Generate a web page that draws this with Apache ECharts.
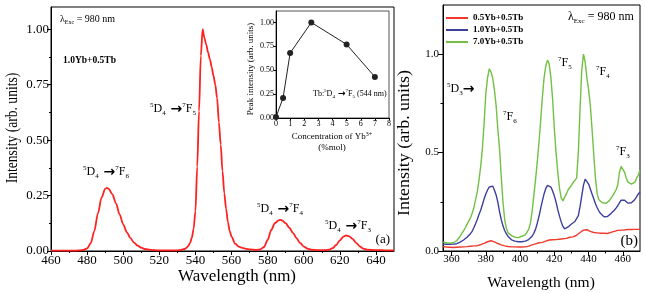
<!DOCTYPE html>
<html><head><meta charset="utf-8">
<script src="https://cdn.jsdelivr.net/npm/echarts@6/dist/echarts.min.js"></script>
<style>html,body{margin:0;padding:0;background:#fff}#c{width:646px;height:293px}</style>
</head><body><div id="c"></div>
<script>
// ---------- Panel (a): emission spectrum, 1.0Yb+0.5Tb ----------
const wavelengthA = [460,465,470,474,476,478,480,482,484,486,
 488,490,491,492,494,496,498,500,502,504,
 506,508,510,512,515,520,525,530,532,534,
 535,536,537,538,539,540,541,542,543,544,
 545,546,547,548,549,550,551,552,553,554,
 555,556,557,558,559,560,562,564,566,568,
 570,574,576,578,580,582,584,586,587,588,
 590,592,594,596,598,600,602,604,608,612,
 614,616,618,620,622,623.5,625,627,629,631,
 633,635,640,645,650];
const intensityA = [.002,.002,.002,.002,.003,.005,.012,.035,.09,.17,
 .24,.28,.285,.28,.255,.215,.165,.12,.085,.058,
 .038,.024,.015,.009,.005,.003,.003,.003,.005,.009,
 .014,.022,.035,.06,.1,.18,.38,.63,.88,1.0,
 .96,.93,.895,.865,.83,.79,.75,.69,.58,.48,
 .36,.26,.19,.13,.09,.065,.033,.02,.014,.01,
 .007,.005,.007,.018,.05,.095,.125,.138,.14,.138,
 .125,.105,.082,.058,.036,.02,.011,.006,.004,.004,
 .006,.013,.027,.048,.065,.07,.067,.055,.037,.021,
 .011,.006,.004,.003,.003];
const xTicksA = [460,480,500,520,540,560,580,600,620,640];
const xMinorA = [470,490,510,530,550,570,590,610,630];
const yTicksA = [0,0.25,0.5,0.75,1.0];
const yMinorA = [0.125,0.375,0.625,0.875];

// ---------- Inset: peak intensity vs Yb concentration ----------
const ybConc = [0,0.5,1,2.5,5,7];
const peakIntensity = [0.01,0.21,0.68,1.0,0.77,0.43];
const xTicksInset = [0,1,2,3,4,5,6,7,8];
const yTicksInset = [0,0.25,0.5,0.75,1.0];

// ---------- Panel (b): three concentrations ----------
const seriesNamesB = ['0.5Yb+0.5Tb','1.0Yb+0.5Tb','7.0Yb+0.5Tb'];
const wavelengthB = [355,356,357,358,359,360,361,362,363,364,
 365,366,367,368,369,370,371,372,373,374,
 375,376,377,378,379,380,381,382,383,384,
 385,386,387,388,389,390,391,392,393,394,
 395,396,397,398,399,400,401,402,403,404,
 405,406,407,408,409,410,411,412,413,414,
 415,416,417,418,419,420,421,422,423,424,
 425,426,427,428,429,430,431,432,433,434,
 435,436,437,438,439,440,441,442,443,444,
 445,446,447,448,449,450,451,452,453,454,
 455,456,457,458,459,460,461,462,463,464,
 465,466,467,468,469,470];
const yb05 = [.022,.024,.02,.021,.019,.02,.018,.02,.019,.021,
 .02,.019,.021,.02,.022,.021,.024,.023,.026,.028,
 .027,.03,.032,.035,.039,.043,.047,.05,.052,.05,
 .046,.042,.038,.034,.031,.028,.026,.025,.023,.022,
 .021,.02,.021,.019,.02,.021,.02,.022,.021,.023,
 .025,.028,.031,.034,.036,.04,.042,.045,.044,.048,
 .05,.054,.056,.054,.057,.055,.058,.056,.06,.058,
 .062,.06,.064,.067,.07,.073,.072,.076,.08,.086,
 .094,.1,.106,.11,.108,.104,.1,.097,.094,.095,
 .092,.093,.09,.092,.09,.091,.089,.092,.095,.098,
 .1,.103,.105,.107,.106,.108,.107,.108,.11,.108,
 .109,.108,.11,.109,.11,.11];
const yb10 = [.035,.034,.034,.033,.034,.034,.035,.036,.037,.04,
 .045,.05,.056,.062,.07,.079,.088,.1,.118,.138,
 .16,.185,.207,.235,.265,.29,.31,.325,.333,.33,
 .31,.285,.248,.2,.16,.128,.104,.087,.074,.064,
 .057,.053,.05,.048,.047,.047,.047,.048,.05,.053,
 .058,.065,.075,.09,.11,.14,.175,.215,.255,.29,
 .318,.333,.336,.325,.305,.28,.248,.21,.177,.148,
 .125,.113,.115,.122,.13,.137,.143,.15,.158,.18,
 .225,.28,.335,.365,.368,.34,.315,.29,.265,.24,
 .22,.203,.19,.18,.174,.173,.175,.182,.19,.198,
 .207,.218,.23,.245,.258,.262,.258,.25,.243,.242,
 .245,.252,.262,.275,.29,.3];
const yb70 = [.045,.038,.042,.035,.04,.036,.042,.045,.052,.062,
 .075,.09,.102,.118,.135,.152,.168,.19,.22,.26,
 .3,.36,.43,.52,.65,.8,.88,.925,.91,.88,
 .82,.74,.62,.52,.38,.25,.16,.115,.092,.082,
 .078,.074,.07,.076,.068,.072,.075,.07,.082,.09,
 .11,.14,.2,.28,.36,.45,.55,.66,.78,.88,
 .94,.97,.95,.88,.77,.62,.5,.4,.32,.27,
 .255,.25,.29,.31,.318,.335,.348,.342,.37,.5,
 .72,.92,1.0,.96,.88,.82,.74,.62,.49,.37,
 .29,.26,.25,.245,.24,.242,.238,.255,.262,.28,
 .29,.31,.335,.4,.43,.44,.4,.37,.35,.345,
 .34,.338,.35,.37,.385,.41];
const xTicksB = [360,380,400,420,440,460];
const xMinorB = [370,390,410,430,450];
const yTicksB = [0,0.5,1.0];
const yMinorB = [0.25,0.75];

const SERIF = 'Liberation Serif';
const zip = (a,b) => a.map((v,i)=>[v,b[i]]);

function mainX(grid,min,max,ticks,fs,tl,margin){
  return {type:'value',gridIndex:grid,position:'bottom',min,max,
    axisLine:{show:true,lineStyle:{color:'#000',width:1}},
    axisTick:{show:true,customValues:ticks,length:tl,lineStyle:{color:'#000'}},
    axisLabel:{customValues:ticks,fontFamily:SERIF,fontSize:fs,color:'#000',margin},
    splitLine:{show:false}};
}
function minorX(grid,min,max,ticks,tl){
  return {type:'value',gridIndex:grid,position:'bottom',offset:0,min,max,
    axisLine:{show:false},axisLabel:{show:false},splitLine:{show:false},
    axisTick:{show:true,customValues:ticks,length:tl,lineStyle:{color:'#000'}}};
}
function mainY(grid,min,max,ticks,fs,tl,margin,dec){
  return {type:'value',gridIndex:grid,position:'left',min,max,
    axisLine:{show:true,lineStyle:{color:'#000',width:1}},
    axisTick:{show:true,customValues:ticks,length:tl,lineStyle:{color:'#000'}},
    axisLabel:{customValues:ticks,fontFamily:SERIF,fontSize:fs,color:'#000',margin,
      formatter:v=>Number(v).toFixed(dec)},
    splitLine:{show:false}};
}
function minorY(grid,min,max,ticks,tl){
  return {type:'value',gridIndex:grid,position:'left',offset:0,min,max,
    axisLine:{show:false},axisLabel:{show:false},splitLine:{show:false},
    axisTick:{show:true,customValues:ticks,length:tl,lineStyle:{color:'#000'}}};
}

function rich(sz){
  const s = Math.round(sz*0.62);
  return {
    n:{fontSize:sz,fontFamily:SERIF,lineHeight:sz+3},
    sup:{fontSize:s,fontFamily:SERIF,verticalAlign:'top'},
    sub:{fontSize:s,fontFamily:SERIF,verticalAlign:'bottom'},
    ar:{fontSize:Math.round(sz*1.15),fontFamily:'DejaVu Sans',fontWeight:'bold'}
  };
}
function txt(x,y,text,sz,opt){
  opt = opt||{};
  return {type:'text',x,y,z:100,rotation:opt.rot||0,scaleX:opt.sx||1,
    style:{text,rich:rich(sz),fill:'#000',fontFamily:SERIF,fontSize:sz,
      fontWeight:opt.bold?'bold':'normal',
      align:opt.align||'left',textAlign:opt.align||'left',
      verticalAlign:'middle',textVerticalAlign:'middle'}};
}
const trans = (a,b,c,d) => `{sup|${a}}{n|D}{sub|${b}}{ar| \u2192}{sup|${c}}{n|F}{sub|${d}}`;

const chart = echarts.init(document.getElementById('c'),null,{renderer:'canvas'});
chart.setOption({
  animation:false,
  backgroundColor:'#fff',
  grid:[
    {left:51,top:7,width:343,height:244,show:true,borderColor:'#000',borderWidth:1,backgroundColor:'transparent'},
    {left:443,top:5,width:197,height:246,show:true,borderColor:'#000',borderWidth:1,backgroundColor:'transparent'},
    {left:276,top:11,width:113,height:107,show:true,borderColor:'#555',borderWidth:1,backgroundColor:'#fff'}
  ],
  xAxis:[
    mainX(0,460,650,xTicksA,13,4,3),
    minorX(0,460,650,xMinorA,2),
    mainX(1,355,470,xTicksB,11,5,3),
    minorX(1,355,470,xMinorB,2.5),
    mainX(2,0,8,xTicksInset,8,2.5,2)
  ],
  yAxis:[
    mainY(0,0,1.1,yTicksA,13,4,2,2),
    minorY(0,0,1.1,yMinorA,2),
    mainY(1,0,1.25,yTicksB,11,5,4,1),
    minorY(1,0,1.25,yMinorB,2.5),
    mainY(2,0,1.12,yTicksInset,8,2.5,2,2)
  ],
  legend:{
    data:seriesNamesB,left:441,top:8,orient:'vertical',icon:'rect',
    itemWidth:22,itemHeight:2,itemGap:2,
    textStyle:{fontFamily:SERIF,fontWeight:'bold',fontSize:9,color:'#000',lineHeight:10}
  },
  series:[
    {type:'line',name:'1.0Yb+0.5Tb (a)',xAxisIndex:0,yAxisIndex:0,data:zip(wavelengthA,intensityA),
      showSymbol:false,smooth:0.3,smoothMonotone:'x',lineStyle:{color:'#ff2020',width:1.8},itemStyle:{color:'#ff2020'}},
    {type:'line',name:'inset',xAxisIndex:4,yAxisIndex:4,data:zip(ybConc,peakIntensity),
      symbol:'circle',symbolSize:6,lineStyle:{color:'#222',width:1},itemStyle:{color:'#222'}},
    {type:'line',name:seriesNamesB[0],xAxisIndex:2,yAxisIndex:2,data:zip(wavelengthB,yb05),
      showSymbol:false,lineStyle:{color:'#ee3b2e',width:1.4},itemStyle:{color:'#ee3b2e'}},
    {type:'line',name:seriesNamesB[1],xAxisIndex:2,yAxisIndex:2,data:zip(wavelengthB,yb10),
      showSymbol:false,lineStyle:{color:'#3c3f9e',width:1.4},itemStyle:{color:'#3c3f9e'}},
    {type:'line',name:seriesNamesB[2],xAxisIndex:2,yAxisIndex:2,data:zip(wavelengthB,yb70),
      showSymbol:false,lineStyle:{color:'#72c044',width:1.4},itemStyle:{color:'#72c044'}}
  ],
  graphic:[
    // axis titles
    txt(237,277,'Wavelength (nm)',17,{align:'center'}),
    txt(13,128,'Intensity (arb. units)',16,{align:'center',rot:Math.PI/2,sx:0.85}),
    txt(541,283,'Wavelength (nm)',15.5,{align:'center'}),
    txt(405,143,'Intensity (arb. units)',16,{align:'center',rot:Math.PI/2,sx:1.12}),
    txt(251,69,'Peak intensity (arb. units)',9,{align:'center',rot:Math.PI/2}),
    txt(332,137,'{n|Concentration of Yb}{sup|3+}',9,{align:'center'}),
    txt(332,148,'(%mol)',9,{align:'center'}),
    // panel (a) annotations
    txt(60,19,'{n|\u03bb}{sub|Exc}{n| = 980 nm}',10),
    txt(63,61,'1.0Yb+0.5Tb',9.5,{bold:true}),
    txt(150,109,trans(5,4,7,5),12),
    txt(83,172,trans(5,4,7,6),12),
    txt(257,209,trans(5,4,7,4),12),
    txt(325,226,trans(5,4,7,3),12),
    txt(390,240,'(a)',13,{align:'right'}),
    txt(313,94,'{n|Tb:}' + trans(5,4,7,5) + '{n| (544 nm)}',8),
    // panel (b) annotations
    txt(568,17,'{n|\u03bb}{sub|Exc}{n| = 980 nm}',12),
    txt(447,89,'{sup|5}{n|D}{sub|3}{ar|\u2192}',12),
    txt(503,117,'{sup|7}{n|F}{sub|6}',12),
    txt(558,63,'{sup|7}{n|F}{sub|5}',12),
    txt(596,72,'{sup|7}{n|F}{sub|4}',12),
    txt(616,152,'{sup|7}{n|F}{sub|3}',12),
    txt(638,241,'(b)',15,{align:'right'})
  ]
});
</script></body></html>
